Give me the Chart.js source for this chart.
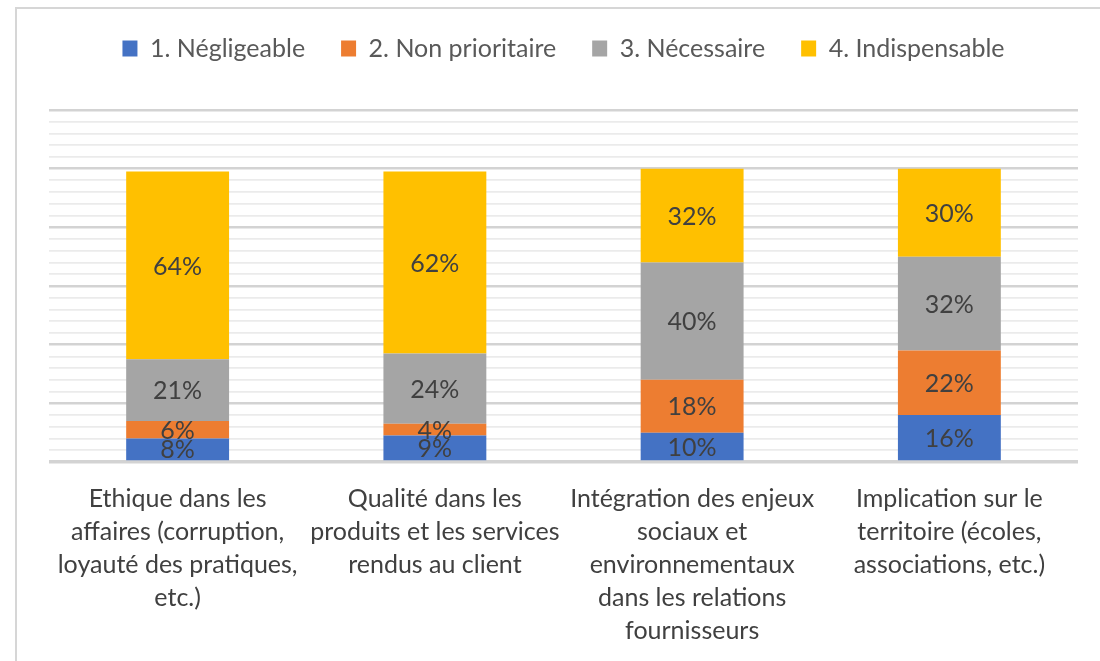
<!DOCTYPE html>
<html>
<head>
<meta charset="utf-8">
<script src="https://cdn.jsdelivr.net/npm/chart.js@4.4.1/dist/chart.umd.min.js"></script>
<style>
html,body{margin:0;padding:0;background:#fff;}
#wrap{width:1100px;height:661px;position:relative;}
</style>
</head>
<body>
<div id="wrap"><canvas id="c" width="1100" height="661"></canvas></div>
<script>
const categories = [
  ["Ethique dans les", "affaires (corruption,", "loyauté des pratiques,", "etc.)"],
  ["Qualité dans les", "produits et les services", "rendus au client"],
  ["Intégration des enjeux", "sociaux et", "environnementaux", "dans les relations", "fournisseurs"],
  ["Implication sur le", "territoire (écoles,", "associations, etc.)"]
];
const seriesNames = ["1. Négligeable", "2. Non prioritaire", "3. Nécessaire", "4. Indispensable"];
const negligeable = [8, 9, 10, 16];
const nonPrioritaire = [6, 4, 18, 22];
const necessaire = [21, 24, 40, 32];
const indispensable = [64, 62, 32, 30];
const seriesColors = ["#4472C4", "#ED7D31", "#A5A5A5", "#FFC000"];

const FONT = "Lato, 'Open Sans', sans-serif";
const valueLists = [negligeable, nonPrioritaire, necessaire, indispensable];

const labelPlugin = {
  id: 'barLabels',
  afterDatasetsDraw(chart) {
    const ctx = chart.ctx;
    ctx.save();
    ctx.font = "25px " + FONT;
    ctx.fillStyle = "#404040";
    ctx.textAlign = "center";
    ctx.textBaseline = "middle";
    chart.data.datasets.forEach((ds, i) => {
      const meta = chart.getDatasetMeta(i);
      meta.data.forEach((bar, j) => {
        const y = (bar.y + bar.base) / 2;
        ctx.fillText(ds.data[j] + "%", bar.x, y + 1);
      });
    });
    ctx.restore();
  }
};

const framePlugin = {
  id: 'frame',
  beforeDraw(chart) {
    const ctx = chart.ctx;
    ctx.save();
    ctx.fillStyle = "#fff";
    ctx.fillRect(0, 0, chart.width, chart.height);
    ctx.strokeStyle = "#d6d6d6";
    ctx.lineWidth = 2;
    ctx.beginPath();
    ctx.moveTo(16, 661);
    ctx.lineTo(16, 8);
    ctx.lineTo(1100, 8);
    ctx.stroke();
    ctx.restore();
  }
};

const legendMargin = {
  id: 'legendMargin',
  beforeInit(chart) {
    const orig = chart.legend.fit;
    chart.legend.fit = function() {
      orig.bind(chart.legend)();
      this.height = 110;
    };
  }
};

new Chart(document.getElementById('c'), {
  type: 'bar',
  data: {
    labels: categories,
    datasets: valueLists.map((v, i) => ({
      label: seriesNames[i],
      data: v,
      backgroundColor: seriesColors[i],
      borderWidth: 0,
      barPercentage: 0.4,
      categoryPercentage: 1.0
    }))
  },
  options: {
    responsive: false,
    animation: false,
    devicePixelRatio: 1,
    layout: { padding: { left: 49, right: 22, top: 0, bottom: 0 } },
    plugins: {
      tooltip: { enabled: false },
      legend: {
        position: 'top',
        labels: {
          boxWidth: 15,
          boxHeight: 16,
          padding: 36,
          color: "#595959",
          font: { family: FONT, size: 25 }
        }
      }
    },
    scales: {
      x: {
        stacked: true,
        grid: { display: false, drawTicks: false },
        border: { display: false },
        afterFit: (s) => { s.height = 199; },
        ticks: {
          color: "#404040",
          font: { family: FONT, size: 25, lineHeight: 1.32 },
          padding: 20,
          maxRotation: 0,
          autoSkip: false
        }
      },
      y: {
        stacked: true,
        min: 0,
        max: 120,
        border: { display: false },
        ticks: { display: false, stepSize: 4 },
        grid: {
          drawTicks: false,
          color: (c) => (c.tick && c.tick.value % 20 === 0) ? "#d3d3d3" : "#ebebeb",
          lineWidth: (c) => (c.tick && c.tick.value === 0) ? 3.5 : ((c.tick && c.tick.value % 20 === 0) ? 2.5 : 1.8)
        }
      }
    }
  },
  plugins: [framePlugin, labelPlugin, legendMargin]
});
</script>
</body>
</html>
